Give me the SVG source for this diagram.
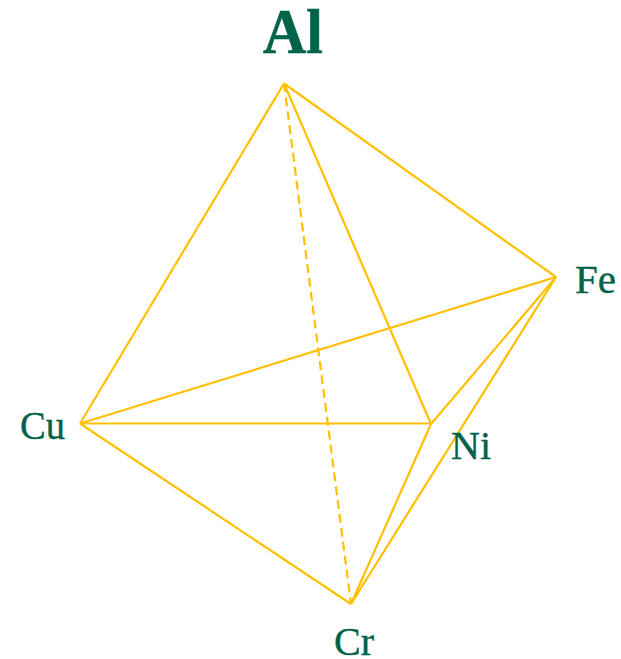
<svg xmlns="http://www.w3.org/2000/svg" width="621" height="659" viewBox="0 0 621 659">
<style>
.e{stroke:#FFC000;stroke-width:2.2;fill:none}
.d{stroke-dasharray:9 5}
text{font-family:"Liberation Serif",serif;fill:#00634A;font-size:40px;stroke:#00634A;stroke-width:.4}
.t{font-size:63px;font-weight:700;stroke-width:.6}
</style>
<rect width="621" height="659" fill="#fff"/>
<g id="connectors">
<line class="e" x1="284" y1="83.500" x2="80" y2="423.500"/>
<line class="e" x1="284" y1="83.500" x2="556" y2="277"/>
<line class="e" x1="284" y1="83.500" x2="431" y2="424"/>
<line class="e d" x1="284" y1="83.500" x2="351" y2="604"/>
<line class="e" x1="80" y1="423.500" x2="556" y2="277"/>
<line class="e" x1="80" y1="423.500" x2="431" y2="423.500"/>
<line class="e" x1="80" y1="423.500" x2="351" y2="604"/>
<line class="e" x1="431" y1="424" x2="556" y2="277"/>
<line class="e" x1="431" y1="424" x2="351" y2="604"/>
<line class="e" x1="556" y1="277" x2="351" y2="604"/>
</g>
<g id="node-al"><text class="t" x="263" y="53" textLength="60" lengthAdjust="spacingAndGlyphs">Al</text></g>
<g id="node-fe"><text x="575" y="293" textLength="41" lengthAdjust="spacingAndGlyphs">Fe</text></g>
<g id="node-cu"><text x="20" y="439" textLength="45" lengthAdjust="spacingAndGlyphs">Cu</text></g>
<g id="node-ni"><text x="451" y="459" textLength="40" lengthAdjust="spacingAndGlyphs">Ni</text></g>
<g id="node-cr"><text x="334" y="655" textLength="40" lengthAdjust="spacingAndGlyphs">Cr</text></g>
</svg>
